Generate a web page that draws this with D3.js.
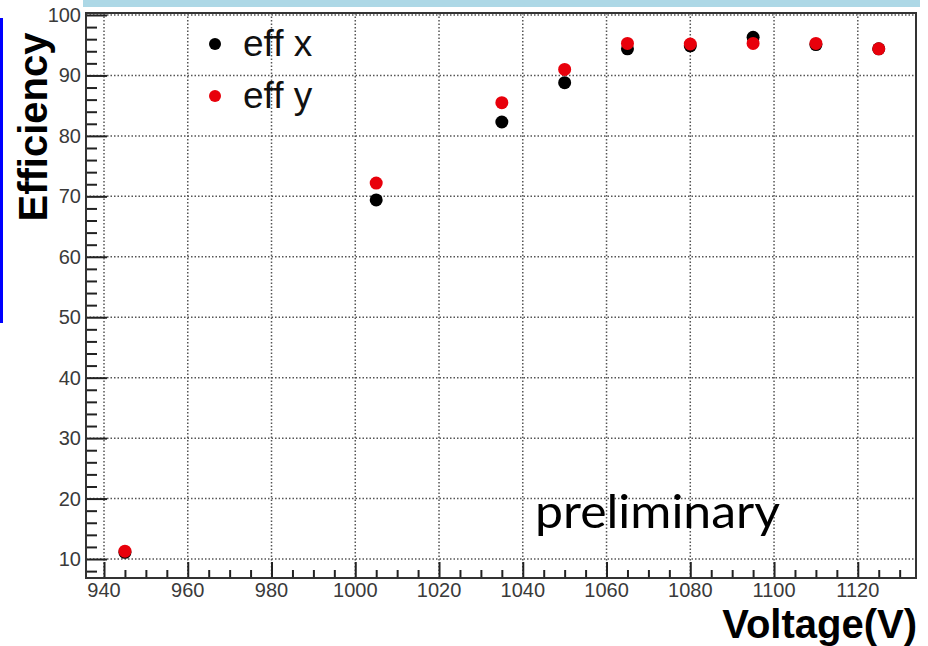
<!DOCTYPE html>
<html>
<head>
<meta charset="utf-8">
<script src="https://cdn.jsdelivr.net/npm/d3@7"></script>
<style>
  html, body { margin: 0; padding: 0; background: #fff; }
  svg { display: block; }
</style>
</head>
<body>
<script>
// Scan voltages (V)
const voltages = [945, 1005, 1035, 1050, 1065, 1080, 1095, 1110, 1125];
// Efficiency per plane (%)
const effX = [11.1, 69.4, 82.3, 88.8, 94.4, 94.9, 96.3, 95.1, 94.4];
const effY = [11.3, 72.2, 85.5, 91.0, 95.3, 95.2, 95.3, 95.3, 94.4];
// Axis ticks
const xMajor = [940, 960, 980, 1000, 1020, 1040, 1060, 1080, 1100, 1120];
const yMajor = [10, 20, 30, 40, 50, 60, 70, 80, 90, 100];
const seriesNames = ["eff x", "eff y"];
const seriesColors = ["#000000", "#e8000b"];

const W = 928, H = 646;
const frame = { left: 86, right: 916, top: 13, bottom: 578 };

const svg = d3.select("body").append("svg")
  .attr("width", W).attr("height", H);

const x = d3.scaleLinear().domain([935.7, 1133.9]).range([frame.left, frame.right]);
const y = d3.scaleLinear().domain([6.86, 100.33]).range([frame.bottom, frame.top]);

// decorative slide elements
svg.append("rect").attr("x", 83).attr("y", 0).attr("width", 837).attr("height", 7)
  .attr("fill", "#add8e6");
svg.append("rect").attr("x", 0).attr("y", 18).attr("width", 3).attr("height", 305)
  .attr("fill", "#0000ff");

const plot = svg.append("g");

// dotted grid
plot.append("g").selectAll("line").data(xMajor).join("line")
  .attr("x1", d => x(d)).attr("x2", d => x(d))
  .attr("y1", frame.top).attr("y2", frame.bottom)
  .attr("stroke", "#555").attr("stroke-width", 1.5).attr("stroke-dasharray", "1.5,2");
plot.append("g").selectAll("line").data(yMajor).join("line")
  .attr("x1", frame.left).attr("x2", frame.right)
  .attr("y1", d => y(d)).attr("y2", d => y(d))
  .attr("stroke", "#555").attr("stroke-width", 1.5).attr("stroke-dasharray", "1.5,2");

// inward ticks on left and bottom
const yMinor = d3.range(8, 101, 2).filter(v => v % 10 !== 0);
const xMinor = d3.range(940, 1134, 5).filter(v => v % 20 !== 0);

const yAxis = d3.axisRight(y).tickValues(yMajor).tickSize(21).tickFormat("");
const yAxisMinor = d3.axisRight(y).tickValues(yMinor).tickSize(11).tickFormat("");
const xAxis = d3.axisTop(x).tickValues(xMajor).tickSize(16).tickFormat("");
const xAxisMinor = d3.axisTop(x).tickValues(xMinor).tickSize(8).tickFormat("");

[[yAxis, `translate(${frame.left},0)`], [yAxisMinor, `translate(${frame.left},0)`],
 [xAxis, `translate(0,${frame.bottom})`], [xAxisMinor, `translate(0,${frame.bottom})`]]
  .forEach(([ax, tr]) => {
    const g = plot.append("g").attr("transform", tr).call(ax);
    g.select(".domain").remove();
    g.selectAll(".tick line").attr("stroke", "#222").attr("stroke-width", 2);
  });

// tick labels
plot.append("g").selectAll("text").data(yMajor).join("text")
  .attr("x", frame.left - 5).attr("y", d => y(d) + 7)
  .attr("text-anchor", "end")
  .attr("font-family", "'Liberation Sans', Arial, sans-serif")
  .attr("font-size", 20).attr("fill", "#3a3a3a")
  .text(d => d);
plot.append("g").selectAll("text").data(xMajor).join("text")
  .attr("x", d => x(d)).attr("y", 597)
  .attr("text-anchor", "middle")
  .attr("font-family", "'Liberation Sans', Arial, sans-serif")
  .attr("font-size", 20).attr("fill", "#3a3a3a")
  .text(d => d);

// frame
plot.append("rect")
  .attr("x", frame.left).attr("y", frame.top)
  .attr("width", frame.right - frame.left).attr("height", frame.bottom - frame.top)
  .attr("fill", "none").attr("stroke", "#333").attr("stroke-width", 2);

// data markers: x plane first, y plane drawn on top
[effX, effY].forEach((vals, i) => {
  plot.append("g").selectAll("circle").data(voltages).join("circle")
    .attr("cx", (d) => x(d))
    .attr("cy", (d, j) => y(vals[j]))
    .attr("r", 6.5)
    .attr("fill", seriesColors[i]);
});

// legend
const legend = svg.append("g");
seriesNames.forEach((name, i) => {
  const ly = 44 + i * 52;
  legend.append("circle").attr("cx", 215).attr("cy", ly).attr("r", 6)
    .attr("fill", seriesColors[i]);
  legend.append("text").attr("x", 243).attr("y", ly + 12)
    .attr("font-family", "'Liberation Sans', Arial, sans-serif")
    .attr("font-size", 37).attr("fill", "#111")
    .text(name);
});

// axis titles
svg.append("text")
  .attr("transform", "translate(47,127) rotate(-90)")
  .attr("text-anchor", "middle")
  .attr("font-family", "'Liberation Sans', Arial, sans-serif")
  .attr("font-weight", "bold").attr("font-size", 40).attr("fill", "#000")
  .text("Efficiency");
svg.append("text")
  .attr("x", 917).attr("y", 638)
  .attr("text-anchor", "end")
  .attr("font-family", "'Liberation Sans', Arial, sans-serif")
  .attr("font-weight", "bold").attr("font-size", 40).attr("fill", "#000")
  .text("Voltage(V)");

// annotation
svg.append("text")
  .attr("x", 535).attr("y", 528)
  .attr("font-family", "Lato, 'Open Sans', sans-serif")
  .attr("font-size", 47).attr("fill", "#000")
  .attr("textLength", 245).attr("lengthAdjust", "spacingAndGlyphs")
  .text("preliminary");
</script>
</body>
</html>
